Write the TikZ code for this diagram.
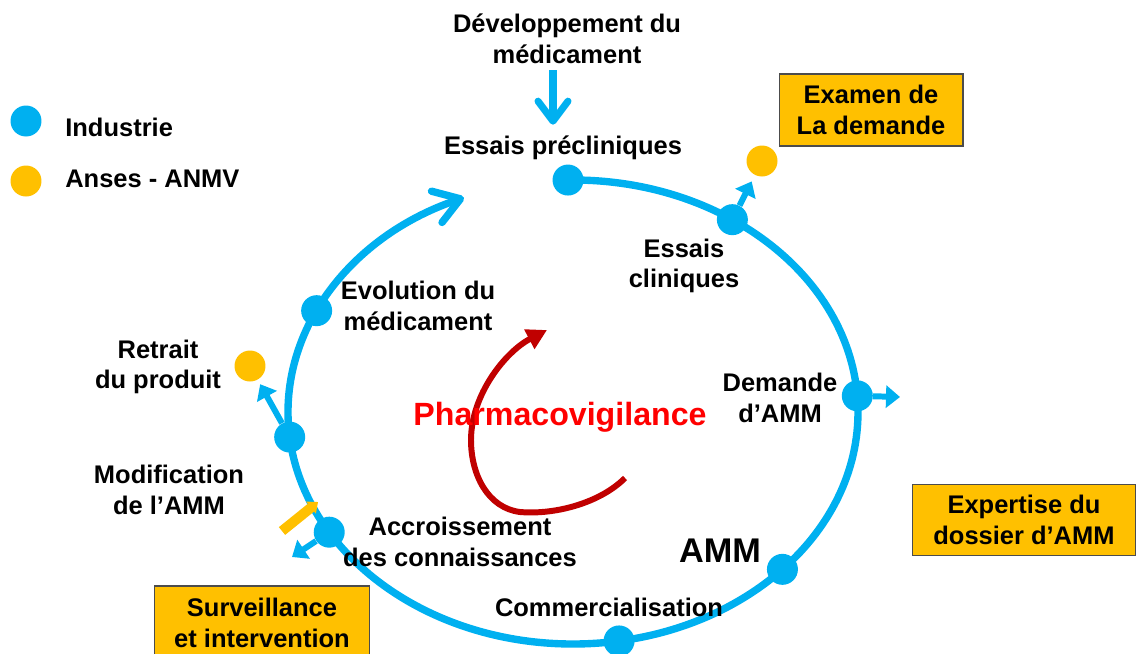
\documentclass[tikz,border=0pt]{standalone}
\usepackage{fontspec}
\setmainfont{Liberation Sans}
\usetikzlibrary{arrows.meta}
\definecolor{indblue}{RGB}{0,176,240}
\definecolor{ansorange}{RGB}{255,192,0}
\definecolor{pvred}{RGB}{192,0,0}
\tikzset{
  lbl/.style={font=\bfseries\fontsize{14.5}{17.5}\selectfont, align=center, inner sep=0pt},
  dotind/.style={circle, fill=indblue, inner sep=0pt, minimum size=.62cm},
  dotans/.style={circle, fill=ansorange, inner sep=0pt, minimum size=.62cm},
  anbox/.style={lbl, fill=ansorange, draw=black!70, line width=.6pt},
  ronde/.style={indblue, line width=4.2pt},
  sortie/.style={indblue, line width=3.4pt, -{Triangle[length=.28cm,width=.44cm]}},
}
\begin{document}
\begin{tikzpicture}[x=.02cm, y=-.02cm]
\useasboundingbox (0,0) rectangle (1136,653);
% legende
\node[dotind] (legind) at (26,121) {};
\node[dotans] (legans) at (26,181) {};
\node[lbl, anchor=west] (tind) at (65,127) {Industrie};
\node[lbl, anchor=west] (tans) at (65,179) {Anses - ANMV};
% cycle de vie
\coordinate (c) at (573,412);
\draw[ronde, -{Straight Barb[length=.5cm, width=.66cm, round]}]
  ([shift={(-91:285 and 232)}]c) arc[start angle=-91, end angle=247.5, x radius=285, y radius=232];
\foreach \a/\n in {-91/dprecl, -56/dcli, -4/ddem, 42.7/damm, 80.7/dcom, 148.8/dacc, 173.8/dmod, 205.9/devo}
  \node[dotind] (\n) at ([shift={(\a:285 and 232)}]c) {};
\node[dotans] (oexam) at (762,161) {};
\node[dotans] (oret) at (250,366) {};
% textes
\node[lbl] (dev) at (567,39) {Développement du\\médicament};
\node[lbl] (precl) at (563,148) {Essais précliniques};
\node[lbl] (cli) at (684,266) {Essais\\cliniques};
\node[lbl] (dem) at (780,398) {Demande\\d’AMM};
\node[lbl, font=\bfseries\fontsize{19.5}{22}\selectfont] (amm) at (720,551) {AMM};
\node[lbl] (com) at (609,607) {Commercialisation};
\node[lbl] (acc) at (460,542) {Accroissement\\des connaissances};
\node[lbl] (mod) at (169,490) {Modification\\de l’AMM};
\node[lbl] (ret) at (158,367) {Retrait\\du produit};
\node[lbl] (evo) at (418,306) {Evolution du\\médicament};
\node[anbox, minimum width=3.68cm, minimum height=1.44cm] (exam) at (871,110) {Examen de\\La demande};
\node[anbox, minimum width=4.46cm, minimum height=1.42cm] (expert) at (1024,520) {Expertise du\\dossier d’AMM};
\node[anbox, minimum width=4.3cm, minimum height=1.48cm] (surv) at (262,623) {Surveillance\\et intervention};
% fleches
\coordinate (axe) at (553,0);
\draw[indblue, line width=4pt, -{Straight Barb[length=.4cm, width=.6cm, round]}, shorten <=.12cm, shorten >=.22cm]
  (dev.south -| axe) -- (precl.north -| axe);
\draw[sortie, shorten >=.14cm] (dcli) -- (oexam);
\draw[sortie, shorten >=.1cm] (dmod) -- (oret);
\coordinate (xdem) at (900,397);
\draw[sortie] (ddem) -- (xdem);
\coordinate (xacc) at (292,557);
\draw[sortie] (dacc) -- (xacc);
\coordinate (oa) at (282,531);
\coordinate (ob) at (318,502);
\draw[ansorange, line width=.2cm, -{Triangle[length=.18cm, width=.3cm]}] (oa) -- (ob);
% pharmacovigilance
\draw[pvred, line width=3.4pt, -{Triangle[length=.4cm, width=.42cm]}]
  (625,478) .. controls (600,503) and (555,515) .. (520,512)
  .. controls (488,508) and (471,475) .. (471,440)
  .. controls (471,395) and (505,352) .. (547,330);
\node[font=\bfseries\fontsize{18.3}{20}\selectfont, text=red, inner sep=0pt] (pv) at (560,417) {Pharmacovigilance};
\end{tikzpicture}
\end{document}
